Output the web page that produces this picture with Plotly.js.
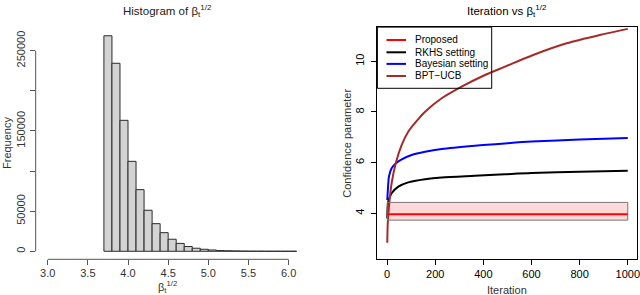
<!DOCTYPE html>
<html>
<head>
<meta charset="utf-8">
<script src="https://cdn.plot.ly/plotly-3.0.1.min.js"></script>
<style>html,body{margin:0;padding:0;background:#fff;}#chart{width:640px;height:295px;}</style>
</head>
<body>
<div id="chart"></div>
<script>
// ---------- Data ----------
// Histogram of beta_t^{1/2}
const histBreaks = [3.7, 3.8, 3.9, 4.0, 4.1, 4.2, 4.3, 4.4, 4.5, 4.6, 4.7, 4.8, 4.9,
                    5.0, 5.1, 5.2, 5.3, 5.4, 5.5, 5.6, 5.7, 5.8, 5.9, 6.0, 6.1];
const histCounts = [268600, 234300, 163200, 112100, 76800, 51100, 34400, 23200,
                    15000, 9800, 5900, 3800, 2500, 1600, 900, 600, 400, 250,
                    150, 100, 60, 40, 25, 15];
const histXTicks = [3.0, 3.5, 4.0, 4.5, 5.0, 5.5, 6.0];
const histYLabelTicks = [0, 50000, 150000, 250000];
const histYMinorTicks = [100000, 200000];

// Iteration vs beta_t^{1/2}
const rkhsIter  = [1, 2, 5, 19, 47, 88, 158, 227, 365, 490, 600, 800, 1000];
const rkhsVals  = [3.80, 4.15, 4.46, 4.79, 5.05, 5.22, 5.34, 5.41, 5.48, 5.54, 5.59, 5.64, 5.68];
const bayesIter = [1, 5, 8, 19, 36, 61, 102, 158, 227, 365, 490, 600, 800, 1000];
const bayesVals = [4.52, 5.15, 5.45, 5.78, 5.97, 6.13, 6.30, 6.43, 6.54, 6.67, 6.76, 6.83, 6.91, 6.97];
const bptIter   = [1, 3, 8, 19, 36, 61, 88, 130, 158, 227, 310, 407, 490, 607, 746, 884, 1000];
const bptVals   = [2.84, 3.60, 4.26, 5.18, 5.97, 6.70, 7.22, 7.72, 8.01, 8.54, 9.00, 9.46, 9.79, 10.25, 10.71, 11.04, 11.28];
const proposedIter = [1, 1000];
const proposedValue = 3.96;
const proposedLow = 3.73;
const proposedHigh = 4.43;
const iterTicks = [0, 200, 400, 600, 800, 1000];
const confTicks = [4, 6, 8, 10];

const legendNames  = ['Proposed', 'RKHS setting', 'Bayesian setting', 'BPT\u2212UCB'];
const legendColors = ['#FF0000', '#000000', '#0000FF', '#A52A2A'];

// ---------- Layout helpers ----------
const W = 640, H = 295;
const px = x => x / W;
const py = y => 1 - y / H;
const LB = {x0: 35.66, x1: 308.7, y0: 26.6, y1: 259.3};   // left plot region (pixels)
const RB = {x0: 377.4, x1: 637.4, y0: 27.1, y1: 258.9};   // right plot region (pixels)
const FONT = '"Liberation Sans", Arial, Helvetica, sans-serif';

const mids = histCounts.map((c, i) => (histBreaks[i] + histBreaks[i + 1]) / 2);
const widths = histCounts.map((c, i) => histBreaks[i + 1] - histBreaks[i]);

const traces = [
  {type: 'bar', x: mids, y: histCounts, width: widths, xaxis: 'x', yaxis: 'y',
   marker: {color: '#D3D3D3', line: {color: '#2a2a2a', width: 1}}, hoverinfo: 'skip'},
  {type: 'scatter', mode: 'lines', x: rkhsIter, y: rkhsVals, xaxis: 'x2', yaxis: 'y2',
   line: {color: legendColors[1], width: 2, shape: 'spline', smoothing: 0.8}},
  {type: 'scatter', mode: 'lines', x: bayesIter, y: bayesVals, xaxis: 'x2', yaxis: 'y2',
   line: {color: legendColors[2], width: 2, shape: 'spline', smoothing: 0.8}},
  {type: 'scatter', mode: 'lines', x: bptIter, y: bptVals, xaxis: 'x2', yaxis: 'y2',
   line: {color: legendColors[3], width: 2, shape: 'spline', smoothing: 0.8}},
  {type: 'scatter', mode: 'lines', xaxis: 'x2', yaxis: 'y2',
   x: [proposedIter[0], proposedIter[1], proposedIter[1], proposedIter[0], proposedIter[0]],
   y: [proposedLow, proposedLow, proposedHigh, proposedHigh, proposedLow],
   fill: 'toself', fillcolor: 'rgba(255,0,0,0.15)', line: {color: '#777777', width: 1}},
  {type: 'scatter', mode: 'lines', x: proposedIter, y: [proposedValue, proposedValue],
   xaxis: 'x2', yaxis: 'y2', line: {color: legendColors[0], width: 2}}
];

const legendRows = [40, 52.3, 63.9, 76];
const shapes = [
  // R-style axis lines for the histogram (span first to last tick)
  {type: 'line', xref: 'x', yref: 'paper', x0: histXTicks[0], x1: histXTicks[histXTicks.length - 1],
   y0: py(LB.y1), y1: py(LB.y1), line: {color: '#555555', width: 1}},
  {type: 'line', xref: 'paper', yref: 'y', x0: px(LB.x0), x1: px(LB.x0),
   y0: 0, y1: histYLabelTicks[histYLabelTicks.length - 1], line: {color: '#555555', width: 1}},
  // legend box
  {type: 'rect', xref: 'paper', yref: 'paper', x0: px(RB.x0), x1: px(491.7), y0: py(88.3), y1: py(RB.y0),
   line: {color: '#000000', width: 1}, fillcolor: 'rgba(0,0,0,0)'}
];
const txt = (text, x, y, opts) => Object.assign({text: text, xref: 'paper', yref: 'paper',
  x: px(x), y: py(y), xanchor: 'center', yanchor: 'middle', showarrow: false,
  font: {size: 11, color: '#000000', family: FONT}}, opts || {});
const annotations = [
  txt('Histogram of \u03B2<sub>t</sub><sup>1/2</sup>', 167.5, 11, {font: {size: 11.5, color: '#222222', family: FONT}}),
  txt('Iteration vs \u03B2<sub>t</sub><sup>1/2</sup>', 507.3, 11, {font: {size: 11.5, color: '#000000', family: FONT}}),
  txt('\u03B2<sub>t</sub><sup>1/2</sup>', 167, 286.5, {font: {size: 11, color: '#333333', family: FONT}}),
  txt('Frequency', 7, 143, {textangle: -90, font: {size: 11, color: '#333333', family: FONT}}),
  txt('Iteration', 507.4, 290, {font: {size: 11, color: '#333333', family: FONT}}),
  txt('Confidence parameter', 346.7, 143, {textangle: -90, font: {size: 11, color: '#333333', family: FONT}})
];
legendNames.forEach((name, i) => {
  shapes.push({type: 'line', xref: 'paper', yref: 'paper', x0: px(386.5), x1: px(406),
               y0: py(legendRows[i]), y1: py(legendRows[i]), line: {color: legendColors[i], width: 2}});
  annotations.push(txt(name, 413, legendRows[i], {xanchor: 'left', font: {size: 10, color: '#000000', family: FONT}}));
});

const layout = {
  width: W, height: H,
  margin: {l: 0, r: 0, t: 0, b: 0},
  paper_bgcolor: '#ffffff', plot_bgcolor: 'rgba(0,0,0,0)',
  showlegend: false,
  bargap: 0,
  font: {family: FONT, size: 11, color: '#000000'},
  xaxis: {domain: [px(LB.x0), px(LB.x1)], range: [2.85, 6.25], anchor: 'y',
          tickvals: histXTicks, tickformat: '.1f', ticks: 'outside', ticklen: 5, tickcolor: '#555555',
          ticklabelstandoff: -2,
          showline: false, showgrid: false, zeroline: false, ticklabeloverflow: 'allow',
          tickfont: {size: 11, color: '#333333'}},
  yaxis: {domain: [py(LB.y1), py(LB.y0)], range: [-10000, 280000], anchor: 'x',
          tickvals: histYLabelTicks, tickformat: 'd', tickangle: -90,
          ticks: 'outside', ticklen: 5, tickcolor: '#555555',
          minor: {tickvals: histYMinorTicks, ticks: 'outside', ticklen: 5, tickcolor: '#555555', showgrid: false},
          showline: false, showgrid: false, zeroline: false, ticklabeloverflow: 'allow',
          tickfont: {size: 11, color: '#333333'}},
  xaxis2: {domain: [px(RB.x0), px(RB.x1)], range: [-40, 1040], anchor: 'y2',
           tickvals: iterTicks, ticks: 'outside', ticklen: 5, tickcolor: '#000000',
           showline: true, mirror: true, linecolor: '#000000', linewidth: 1, ticklabeloverflow: 'allow',
           showgrid: false, zeroline: false, tickfont: {size: 11}},
  yaxis2: {domain: [py(RB.y1), py(RB.y0)], range: [2.2, 11.35], anchor: 'x2',
           tickvals: confTicks, tickangle: -90, ticks: 'outside', ticklen: 5, tickcolor: '#000000',
           ticklabelstandoff: 3,
           showline: true, mirror: true, linecolor: '#000000', linewidth: 1, ticklabeloverflow: 'allow',
           showgrid: false, zeroline: false, tickfont: {size: 11}},
  shapes: shapes,
  annotations: annotations
};

Plotly.newPlot('chart', traces, layout, {staticPlot: true, displayModeBar: false});
</script>
</body>
</html>
